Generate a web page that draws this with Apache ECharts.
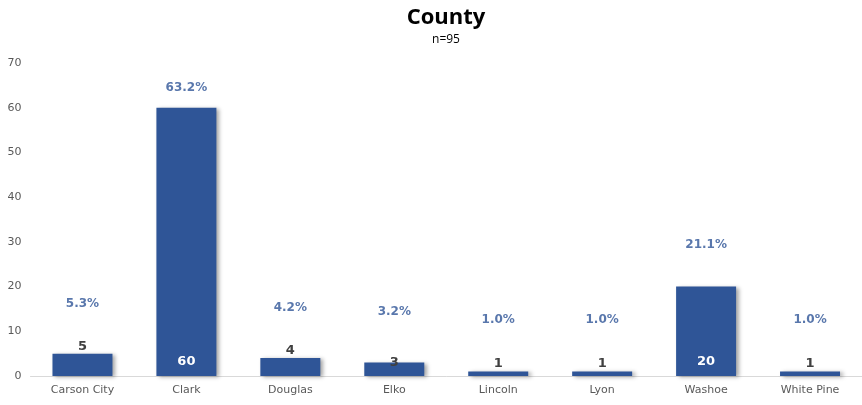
<!DOCTYPE html>
<html>
<head>
<meta charset="utf-8">
<script src="https://cdn.jsdelivr.net/npm/echarts@6/dist/echarts.min.js"></script>
<style>
  html, body { margin: 0; padding: 0; background: #fff; }
  #chart { width: 862px; height: 405px; }
</style>
</head>
<body>
<div id="chart"></div>
<script>
// Respondents by county
const counties = ['Carson City', 'Clark', 'Douglas', 'Elko', 'Lincoln', 'Lyon', 'Washoe', 'White Pine'];
const counts = [5, 60, 4, 3, 1, 1, 20, 1];
const shares = [5.3, 63.2, 4.2, 3.2, 1.0, 1.0, 21.1, 1.0];
const yTicks = [0, 10, 20, 30, 40, 50, 60, 70];

const BAR = '#2F5597';
const INSIDE_MIN = 10; // counts at or above this are labelled inside the bar

const chart = echarts.init(document.getElementById('chart'), null, { renderer: 'canvas' });

// Elko's count sits lower, overlapping its bar top
const labelDistance = { Elko: -7 };

const countData = counts.map((v, i) => ({
  value: v,
  label: v >= INSIDE_MIN
    ? { position: 'insideBottom', distance: 8, color: '#ffffff' }
    : { position: 'top', distance: labelDistance[counties[i]] ?? 1, color: '#404040' }
}));

chart.setOption({
  animation: false,
  title: {
    text: 'County',
    subtext: 'n=95',
    left: 441,
    top: 2,
    textAlign: 'center',
    itemGap: 5,
    textStyle: { fontFamily: 'Open Sans', fontWeight: 'bold', fontSize: 22, color: '#000' },
    subtextStyle: { fontFamily: 'Open Sans', fontSize: 12, color: '#000' }
  },
  grid: { left: 30.5, right: -8, top: 63, bottom: 29, containLabel: false },
  xAxis: {
    type: 'category',
    data: counties,
    axisLine: { lineStyle: { color: '#d9d9d9', width: 1 } },
    axisTick: { show: false },
    axisLabel: { color: '#595959', fontFamily: 'DejaVu Sans', fontSize: 11, margin: 9 }
  },
  yAxis: [
    {
      type: 'value',
      min: yTicks[0],
      max: yTicks[yTicks.length - 1],
      interval: yTicks[1] - yTicks[0],
      splitLine: { show: false },
      axisLine: { show: false },
      axisTick: { show: false },
      axisLabel: { color: '#595959', fontFamily: 'DejaVu Sans', fontSize: 11, margin: 9 }
    },
    {
      // hidden scale that places the share labels
      type: 'value',
      min: -14,
      max: 70,
      show: false
    }
  ],
  series: [
    {
      type: 'bar',
      data: countData,
      barWidth: 60,
      itemStyle: {
        color: BAR,
        shadowColor: 'rgba(0,0,0,0.35)',
        shadowBlur: 4,
        shadowOffsetX: 3,
        shadowOffsetY: 1
      },
      label: {
        show: true,
        fontFamily: 'DejaVu Sans',
        fontWeight: 'bold',
        fontSize: 13
      }
    },
    {
      type: 'scatter',
      yAxisIndex: 1,
      data: shares,
      symbolSize: 0,
      silent: true,
      label: {
        show: true,
        position: 'inside',
        formatter: p => p.value.toFixed(1) + '%',
        color: BAR,
        fontFamily: 'DejaVu Sans',
        fontWeight: 'bold',
        fontSize: 12
      }
    }
  ]
});
</script>
</body>
</html>
